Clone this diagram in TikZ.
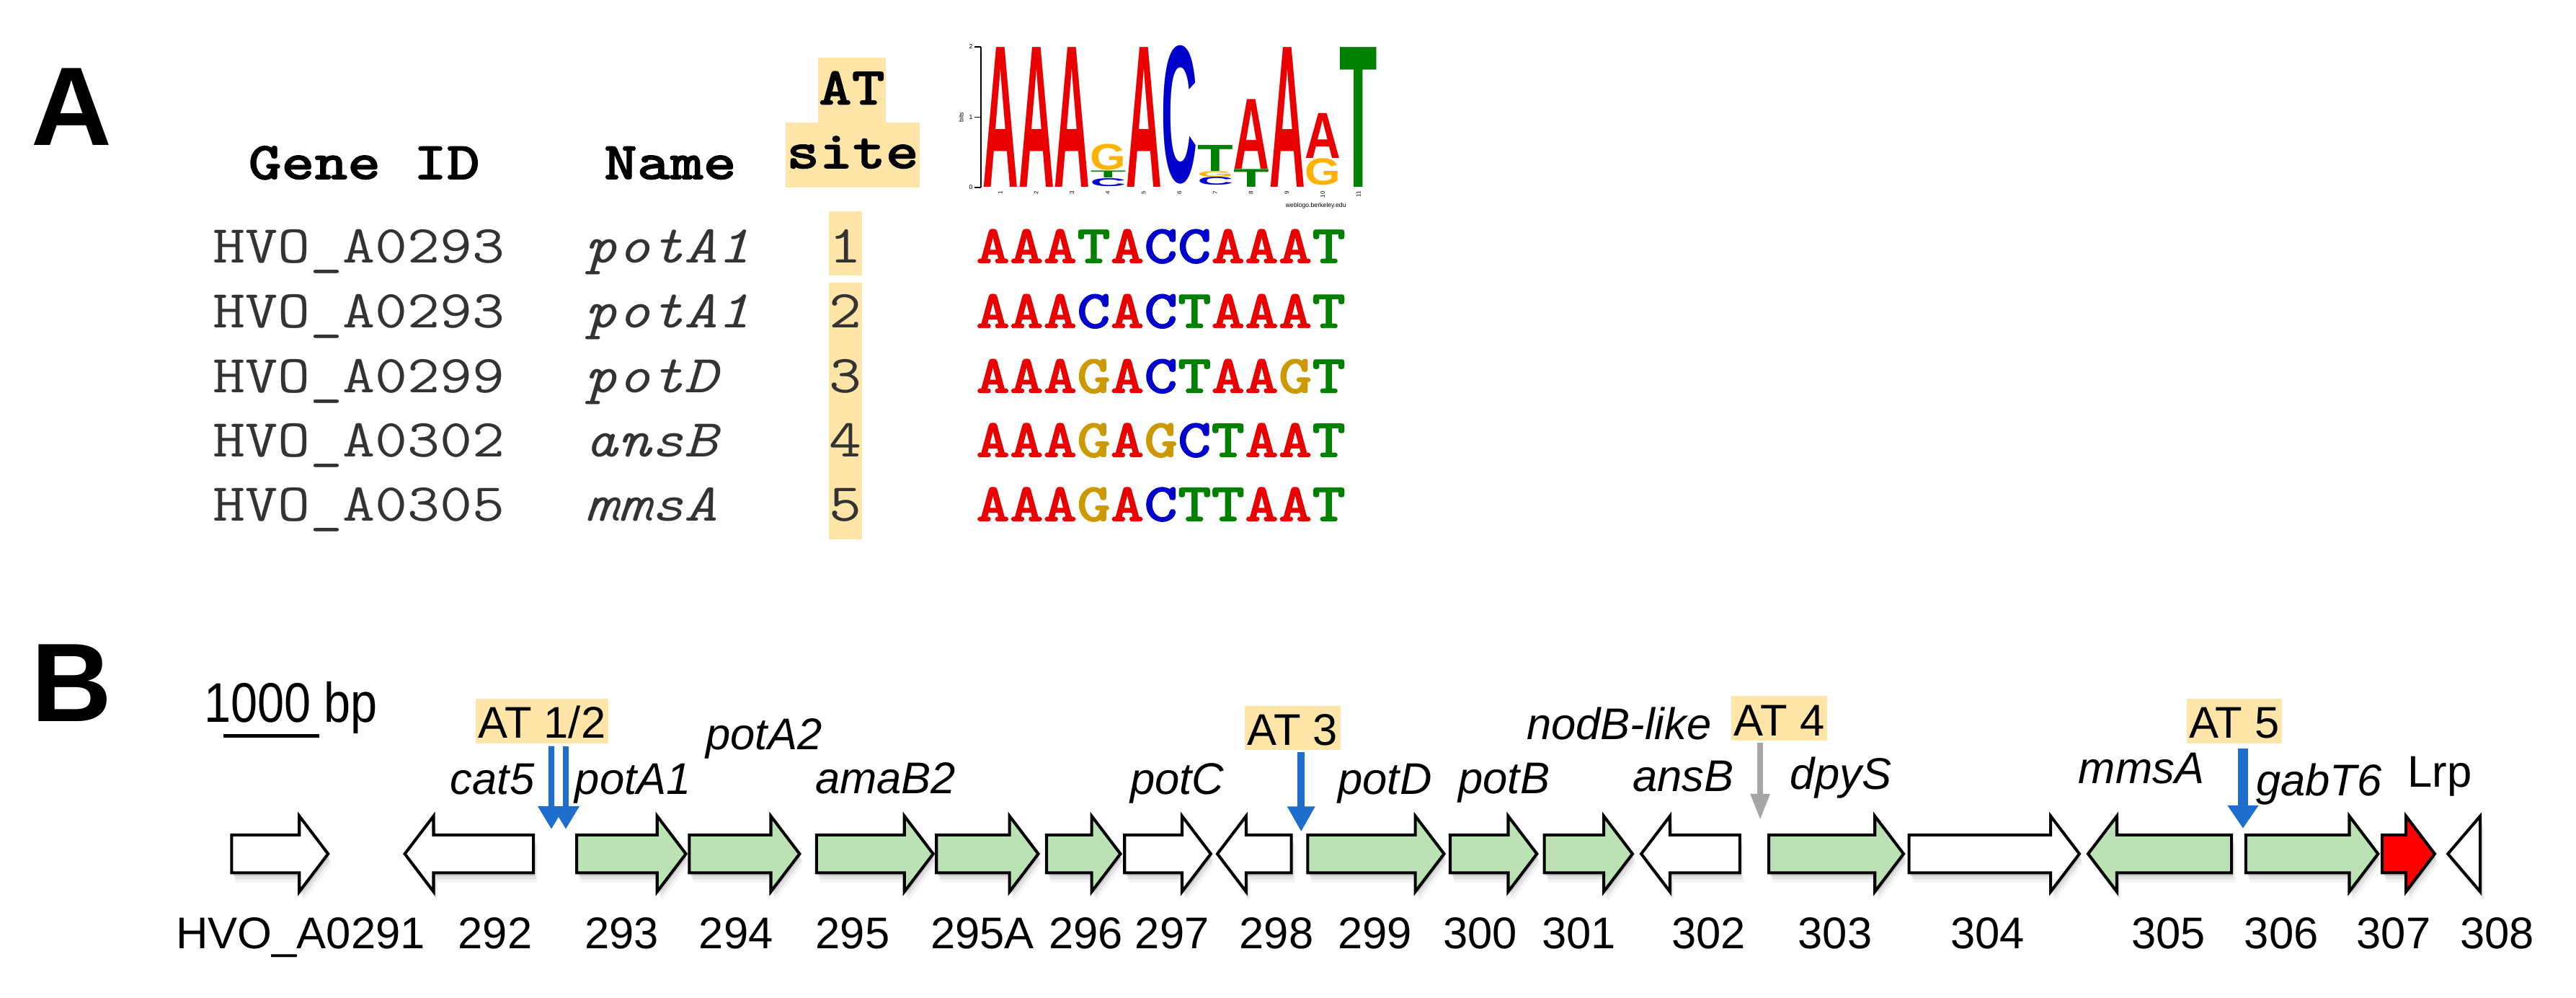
\documentclass[tikz,border=0pt]{standalone}
\usepackage{fontspec}
\setmainfont{Liberation Sans}
\newfontfamily\monobold{lmmonolt10-bold.otf}[FakeBold=1.2]
\usepackage{graphicx}
\usetikzlibrary{arrows.meta}
\pgfdeclarelayer{bg}
\pgfsetlayers{bg,main}
\newcommand\fsz[1]{\fontsize{#1}{#1}\selectfont}
\newcommand\cw[1]{\scalebox{1.18}[1]{#1}}
\definecolor{hl}{RGB}{255,229,168}
\definecolor{gfill}{RGB}{187,225,180}
\definecolor{atblue}{RGB}{30,110,205}
\definecolor{atgray}{RGB}{165,165,165}
\definecolor{sA}{RGB}{235,0,0}
\definecolor{sT}{RGB}{0,128,0}
\definecolor{sC}{RGB}{0,0,204}
\definecolor{sG}{RGB}{204,153,0}
\definecolor{lG}{RGB}{255,179,0}
\newcommand\qA{\textcolor{sA}{A}}
\newcommand\qT{\textcolor{sT}{T}}
\newcommand\qC{\textcolor{sC}{C}}
\newcommand\qG{\textcolor{sG}{G}}
\newcommand\geneR[3]{%
  \begin{pgfonlayer}{bg}
  \foreach \sh/\op in {2/0.10,4/0.07,6/0.04}{
    \fill[black,opacity=\op,shift={({0.4*\sh},\sh)}] (#1,508) -- ({#2-17.5},508) -- ({#2-17.5},496.5) -- (#2,519.5) -- ({#2-17.5},542.5) -- ({#2-17.5},531) -- (#1,531) -- cycle;}
  \end{pgfonlayer}
  \draw[genebox,fill=#3] (#1,508) -- ({#2-17.5},508) -- ({#2-17.5},496.5) -- (#2,519.5) -- ({#2-17.5},542.5) -- ({#2-17.5},531) -- (#1,531) -- cycle;}
\newcommand\geneL[3]{%
  \begin{pgfonlayer}{bg}
  \foreach \sh/\op in {2/0.10,4/0.07,6/0.04}{
    \fill[black,opacity=\op,shift={({0.4*\sh},\sh)}] (#1,508) -- ({#2+17.5},508) -- ({#2+17.5},496.5) -- (#2,519.5) -- ({#2+17.5},542.5) -- ({#2+17.5},531) -- (#1,531) -- cycle;}
  \end{pgfonlayer}
  \draw[genebox,fill=#3] (#1,508) -- ({#2+17.5},508) -- ({#2+17.5},496.5) -- (#2,519.5) -- ({#2+17.5},542.5) -- ({#2+17.5},531) -- (#1,531) -- cycle;}
\begin{document}
\begin{tikzpicture}[x=1pt,y=-1pt,
  panel/.style={font=\bfseries\fsz{68}, inner sep=0, anchor=base west},
  hdr/.style={font=\monobold\fsz{32.5}, inner sep=0},
  cell/.style={font=\ttfamily\fsz{32.5}, text=black!80, inner sep=0, anchor=base west},
  cellit/.style={cell, font=\ttfamily\itshape\fsz{32.5}},
  seqtxt/.style={font=\monobold\fsz{33}, inner sep=0, anchor=base west},
  lbl/.style={font=\fsz{27}, inner sep=0, anchor=base},
  glbl/.style={font=\itshape\fsz{27}, inner sep=0, anchor=base},
  atbox/.style={fill=hl, font=\fsz{27}, inner xsep=1.5pt, inner ysep=0pt, text height=24pt, text depth=3pt, anchor=base},
  genebox/.style={draw=black, line width=1.8pt, line join=miter},
  logol/.style={inner sep=0, anchor=south west, font=\bfseries},
  tiny/.style={font=\fsz{3.8}, inner sep=0.3pt}]
\useasboundingbox (0,0) rectangle (1568,607);
\begin{pgfonlayer}{bg}\fill[white] (0,0) rectangle (1568,607);\end{pgfonlayer}

% ---------------- Panel A ----------------
\node[panel] (pA) at (19,88.6) {A};
\node[hdr, anchor=base west] (hgid) at (151,109) {\cw{Gene ID}};
\node[hdr, anchor=base west] (hname) at (367.5,109) {\cw{Name}};
\fill[hl] (498,35) rectangle (539,74.6);
\fill[hl] (478,74.6) rectangle (560,114);
\node[hdr, anchor=base] (hat) at (518.5,63.6) {\cw{AT}};
\node[hdr, anchor=base] (hsite) at (519,102.4) {\cw{site}};
\fill[hl] (504.5,128.6) rectangle (524.7,167.6);
\fill[hl] (504.5,172) rectangle (524.7,328);
\foreach \ri/\gid/\nm/\numv/\yb in {1/A0293/potA1/1/160, 2/A0293/potA1/2/199.5, 3/A0299/potD/3/239, 4/A0302/ansB/4/278, 5/A0305/mmsA/5/317}{
  \node[cell] (gid\ri) at (129.5,\yb) {\cw{HVO\_\gid}};
  \node[cellit] (nm\ri) at (356,\yb) {\cw{\nm}};
  \node[cell, anchor=base] (num\ri) at (514.6,\yb) {\cw{\numv}};
}
\node[seqtxt] (seq1) at (594,160) {\cw{\qA\qA\qA\qT\qA\qC\qC\qA\qA\qA\qT}};
\node[seqtxt] (seq2) at (594,199.5) {\cw{\qA\qA\qA\qC\qA\qC\qT\qA\qA\qA\qT}};
\node[seqtxt] (seq3) at (594,239) {\cw{\qA\qA\qA\qG\qA\qC\qT\qA\qA\qG\qT}};
\node[seqtxt] (seq4) at (594,278) {\cw{\qA\qA\qA\qG\qA\qG\qC\qT\qA\qA\qT}};
\node[seqtxt] (seq5) at (594,317) {\cw{\qA\qA\qA\qG\qA\qC\qT\qT\qA\qA\qT}};

% sequence logo
\draw[line width=0.8pt] (597,28.5) -- (597,114);
\foreach \yy in {28.5,71.3,114} \draw[line width=0.8pt] (593,\yy) -- (597,\yy);
\node[tiny, anchor=east] (ax2) at (592.5,28.5) {2};
\node[tiny, anchor=east] (ax1) at (592.5,71.3) {1};
\node[tiny, anchor=east] (ax0) at (592.5,114) {0};
\node[tiny, rotate=90] (bits) at (585,71.3) {bits};
\foreach \c in {1,...,11}
  \node[tiny, rotate=90, anchor=east, font=\fsz{3.5}] (cn\c) at ({598+21.8*(\c-0.5)},116) {\c};
\node[tiny] (fine) at (801,125) {weblogo.berkeley.edu};
\node[logol] (L1) at (598,114) {\resizebox{21.8pt}{85pt}{\color{sA}A}};
\node[logol] (L2) at (619.8,114) {\resizebox{21.8pt}{85pt}{\color{sA}A}};
\node[logol] (L3) at (641.6,114) {\resizebox{21.8pt}{85pt}{\color{sA}A}};
\node[logol] (L4c) at (663.4,113.5) {\resizebox{21.8pt}{4.8pt}{\color{sC}C}};
\node[logol] (L4t) at (663.4,108.4) {\resizebox{21.8pt}{4.2pt}{\color{sT}T}};
\node[logol] (L4g) at (663.4,103.9) {\resizebox{21.8pt}{15.6pt}{\color{lG}G}};
\node[logol] (L5) at (685.2,114) {\resizebox{21.8pt}{85pt}{\color{sA}A}};
\node[logol] (L6) at (707,112) {\resizebox{21.8pt}{83pt}{\color{sC}C}};
\node[logol] (L7c) at (728.8,113) {\resizebox{21.8pt}{4.8pt}{\color{sC}C}};
\node[logol] (L7g) at (728.8,107.9) {\resizebox{21.8pt}{3.4pt}{\color{lG}G}};
\node[logol] (L7t) at (728.8,104.2) {\resizebox{21.8pt}{15.8pt}{\color{sT}T}};
\node[logol] (L8t) at (750.6,114) {\resizebox{21.8pt}{10.8pt}{\color{sT}T}};
\node[logol] (L8a) at (750.6,102.9) {\resizebox{21.8pt}{42.4pt}{\color{sA}A}};
\node[logol] (L9) at (772.4,114) {\resizebox{21.8pt}{85pt}{\color{sA}A}};
\node[logol] (L10g) at (794.2,113) {\resizebox{21.8pt}{16.1pt}{\color{lG}G}};
\node[logol] (L10a) at (794.2,96.3) {\resizebox{21.8pt}{27.3pt}{\color{sA}A}};
\node[logol] (L11) at (815,114) {\resizebox{23pt}{85pt}{\color{sT}T}};

% ---------------- Panel B ----------------
\node[panel] (pB) at (19,438.8) {B};
\node[inner sep=0, anchor=base west, font=\fsz{34}] (scale) at (124,439.5) {\scalebox{0.86}[1]{1000 bp}};
\draw[line width=2.2pt] (136,447.8) -- (194.5,447.8);

% genes
\geneR{141}{199.7}{white}
\geneL{324.7}{246.4}{white}
\geneR{351}{417.5}{gfill}
\geneR{419.6}{486.7}{gfill}
\geneR{497}{568}{gfill}
\geneR{570}{632}{gfill}
\geneR{637}{682}{gfill}
\geneR{684.5}{737}{white}
\geneL{786}{741}{white}
\geneR{796}{879}{gfill}
\geneR{882.7}{935.5}{gfill}
\geneR{940}{993.7}{gfill}
\geneL{1059}{999}{white}
\geneR{1076.7}{1158.7}{gfill}
\geneR{1162}{1265.7}{white}
\geneL{1358.3}{1271}{gfill}
\geneR{1367}{1447.5}{gfill}
\geneR{1450}{1482}{red}
\begin{pgfonlayer}{bg}
\foreach \sh/\op in {2/0.10,4/0.07,6/0.04}
  \fill[black,opacity=\op,shift={({0.4*\sh},\sh)}] (1509.7,496.5) -- (1490,519.5) -- (1509.7,542.5) -- cycle;
\end{pgfonlayer}
\draw[genebox,fill=white] (1509.7,496.5) -- (1490,519.5) -- (1509.7,542.5) -- cycle;

% numbers
\foreach \nm/\xx in {HVO\_A0291/183, 292/301.4, 293/378.5, 294/448, 295/519, 295A/598, 296/661, 297/713.5, 298/777, 299/837, 300/901, 301/961, 302/1040, 303/1117, 304/1209.7, 305/1320, 306/1388.6, 307/1457, 308/1520}
  \node[lbl] (n\xx) at (\xx,577) {\nm};

% gene names
\node[glbl] (gcat5) at (299.7,483.3) {cat5};
\node[glbl] (gpotA1) at (385.3,483.3) {potA1};
\node[glbl] (gpotA2) at (465,456) {potA2};
\node[glbl] (gamaB2) at (539,483) {amaB2};
\node[glbl] (gpotC) at (716.5,483.3) {potC};
\node[glbl] (gpotD) at (843,483.3) {potD};
\node[glbl] (gpotB) at (915.5,483) {potB};
\node[glbl] (gnodB) at (985.5,449.7) {nodB-like};
\node[glbl] (gansB) at (1024.5,481.6) {ansB};
\node[glbl] (gdpyS) at (1120.5,480) {dpyS};
\node[glbl] (gmmsA) at (1303.5,476.5) {mmsA};
\node[glbl] (ggabT6) at (1411.5,484) {gabT6};
\node[lbl] (glrp) at (1485,479) {Lrp};

% AT sites
\node[atbox] (AT12) at (329.9,449.2) {AT 1/2};
\node[atbox] (AT3) at (786.8,453.3) {AT 3};
\node[atbox] (AT4) at (1083,447.5) {AT 4};
\node[atbox] (AT5) at (1360,449.2) {AT 5};
\coordinate (t12a) at (335.6,504.5);
\coordinate (t12b) at (344.4,504.5);
\coordinate (t3) at (792,506);
\coordinate (t4) at (1071.4,499);
\coordinate (t5) at (1365.3,504);
\draw[atblue, line width=3.6pt, -{Triangle[length=14pt,width=15.6pt]}] ([xshift=5.7pt,yshift=-1.5pt]AT12.south) -- (t12a);
\draw[atblue, line width=3.6pt, -{Triangle[length=14pt,width=15.6pt]}] ([xshift=14.5pt,yshift=-1.5pt]AT12.south) -- (t12b);
\draw[atblue, line width=4.4pt, -{Triangle[length=15.4pt,width=16pt]}] ([xshift=5.2pt,yshift=-1pt]AT3.south) -- (t3);
\draw[atgray, line width=3.6pt, -{Triangle[length=16pt,width=11pt]}] ([xshift=-11.6pt,yshift=-1pt]AT4.south) -- (t4);
\draw[atblue, line width=6.5pt, -{Triangle[length=14pt,width=18pt]}] ([xshift=5.3pt,yshift=-3pt]AT5.south) -- (t5);
\end{tikzpicture}
\end{document}
